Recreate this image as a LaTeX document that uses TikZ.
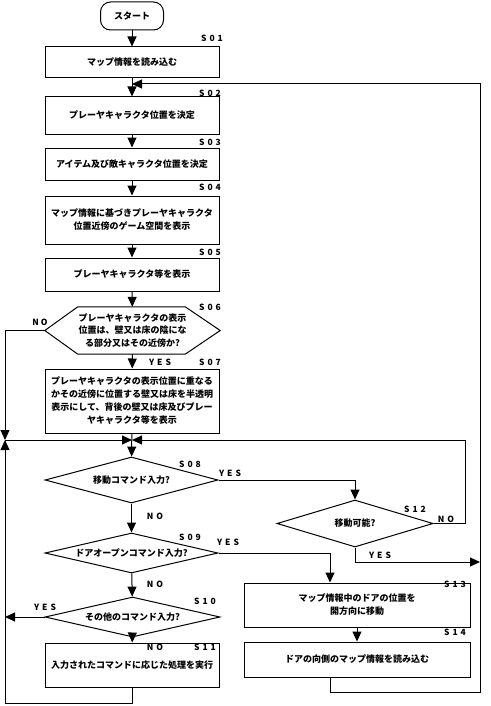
\documentclass[tikz,border=0pt]{standalone}
\usepackage{fontspec}
\setmainfont{Noto Sans CJK JP}
\usetikzlibrary{arrows.meta,shapes.geometric}
\newcommand{\stepno}[2]{S\hspace{3pt}#1\hspace{3pt}#2}
\tikzset{
    txt/.style={font=\bfseries\fontsize{9}{13}\selectfont, align=center, inner sep=0pt},
    box/.style={txt, draw, line width=1pt, minimum width=174pt},
    decision/.style={txt, draw, line width=1pt, diamond, aspect=4},
    tag/.style={font=\bfseries\fontsize{8.5}{10}\selectfont, inner sep=0pt},
    arr/.style={line width=1pt, -{Triangle[length=10pt,width=9pt]}},
    ln/.style={line width=1pt}
}
\begin{document}
\begin{tikzpicture}[x=1pt,y=-1pt]
        \useasboundingbox (0,0) rectangle (490,706);
        % corners of the loops
        \coordinate (top) at (132,84);
        \coordinate (jl) at (5,440);
        \coordinate (jc) at (132,440);
        \coordinate (rt) at (465,440);
        \coordinate (ry) at (480,562);
        \coordinate (rb) at (480,692);
        \coordinate (lb) at (5,703);
        % steps
        \node[txt, draw, line width=1pt, rounded corners=10pt, minimum width=63pt, minimum height=28pt] (start) at (132,16) {スタート};
        \node[box, minimum height=31pt] (s01) at (132,62.5) {マップ情報を読み込む};
        \node[box, minimum height=37pt] (s02) at (132,115.5) {プレーヤキャラクタ位置を決定};
        \node[box, minimum height=32pt] (s03) at (132,164) {アイテム及び敵キャラクタ位置を決定};
        \node[box, minimum height=48pt] (s04) at (132,220) {マップ情報に基づきプレーヤキャラクタ\\位置近傍のゲーム空間を表示};
        \node[box, minimum height=33pt] (s05) at (132,274.5) {プレーヤキャラクタ等を表示};
        \node[txt, minimum width=175pt, minimum height=47pt, font=\bfseries\fontsize{9}{12.5}\selectfont] (s06) at (132.5,330.5) {プレーヤキャラクタの表示\\位置は、壁又は床の陰にな\\る部分又はその近傍か?};
        \draw[ln] (s06.west) -- ([xshift=33pt]s06.north west) -- ([xshift=-35pt]s06.north east)
            -- (s06.east) -- ([xshift=-35pt]s06.south east) -- ([xshift=33pt]s06.south west) -- cycle;
        \node[box, minimum height=64pt] (s07) at (132,401) {プレーヤキャラクタの表示位置に重なる\\かその近傍に位置する壁又は床を半透明\\表示にして、背後の壁又は床及びプレー\\ヤキャラクタ等を表示};
        \node[decision, minimum width=173pt, minimum height=46pt] (s08) at (131.5,480) {移動コマンド入力?};
        \node[decision, minimum width=173pt, minimum height=40pt] (s09) at (131.5,553) {ドアオープンコマンド入力?};
        \node[decision, minimum width=175pt, minimum height=40pt] (s10) at (132.5,617) {その他のコマンド入力?};
        \node[box, minimum height=44pt] (s11) at (132,665) {入力されたコマンドに応じた処理を実行};
        \node[decision, minimum width=156pt, minimum height=47pt] (s12) at (355,523.5) {移動可能?};
        \node[box, minimum width=226pt, minimum height=44pt] (s13) at (357,605) {マップ情報中のドアの位置を\\開方向に移動};
        \node[box, minimum width=226pt, minimum height=35pt] (s14) at (357,659.5) {ドアの向側のマップ情報を読み込む};
        % step numbers
        \node[tag] (t01) at (212,38) {\stepno{0}{1}};
        \node[tag] (t02) at (210,93) {\stepno{0}{2}};
        \node[tag] (t03) at (210,142) {\stepno{0}{3}};
        \node[tag] (t04) at (210,187) {\stepno{0}{4}};
        \node[tag] (t05) at (210,252) {\stepno{0}{5}};
        \node[tag] (t06) at (210,307) {\stepno{0}{6}};
        \node[tag] (t07) at (210,362) {\stepno{0}{7}};
        \node[tag] (t08) at (190,464) {\stepno{0}{8}};
        \node[tag] (t09) at (190,537) {\stepno{0}{9}};
        \node[tag] (t10) at (205,601) {\stepno{1}{0}};
        \node[tag] (t11) at (205,647) {\stepno{1}{1}};
        \node[tag] (t12) at (415,509) {\stepno{1}{2}};
        \node[tag] (t13) at (455,584) {\stepno{1}{3}};
        \node[tag] (t14) at (455,632) {\stepno{1}{4}};
        % main line
        \draw[arr] (start) -- (s01);
        \draw[arr] (s01) -- (s02);
        \draw[arr] (s02) -- (s03);
        \draw[arr] (s03) -- (s04);
        \draw[arr] (s04) -- (s05);
        \draw[arr] (s05) -- (s06);
        \draw[arr] (s06) -- (s07);
        \draw[arr] (s07) -- (s08);
        \draw[arr] (s08) -- (s09);
        \draw[arr] (s09) -- (s10);
        \draw[arr] (s10) -- (s11);
        \draw[arr] (s13) -- (s14);
        % branches
        \draw[arr] (s06.west) -| (jl);
        \draw[arr] (jl) -- (jc);
        \draw[arr] (s08.east) -| (s12.north);
        \draw[arr] (s12.east) -| (rt) -- (jc);
        \draw[arr] (s12.south) |- (ry);
        \draw[arr] (s09.east) -| ([xshift=-27pt]s13.north);
        \draw[arr] (s10.west) -- (s10.west -| jl);
        \draw[arr] (s11.south) |- (lb) -- (jl);
        \draw[arr] ([xshift=-27pt]s14.south) |- (rb) |- (top);
        % yes / no
        \node[tag] (n06) at (40,322) {N\hspace{2pt}O};
        \node[tag] (y06) at (160,362) {Y\hspace{3pt}E\hspace{3pt}S};
        \node[tag] (y08) at (230,473) {Y\hspace{3pt}E\hspace{3pt}S};
        \node[tag] (n08) at (155,516) {N\hspace{3pt}O};
        \node[tag] (n12) at (446,519) {N\hspace{3pt}O};
        \node[tag] (y12) at (380,555) {Y\hspace{3pt}E\hspace{3pt}S};
        \node[tag] (y09) at (228,542) {Y\hspace{3pt}E\hspace{3pt}S};
        \node[tag] (n09) at (155,584) {N\hspace{3pt}O};
        \node[tag] (y10) at (45,607) {Y\hspace{3pt}E\hspace{3pt}S};
        \node[tag] (n10) at (155,647) {N\hspace{3pt}O};
    \end{tikzpicture}
\end{document}
